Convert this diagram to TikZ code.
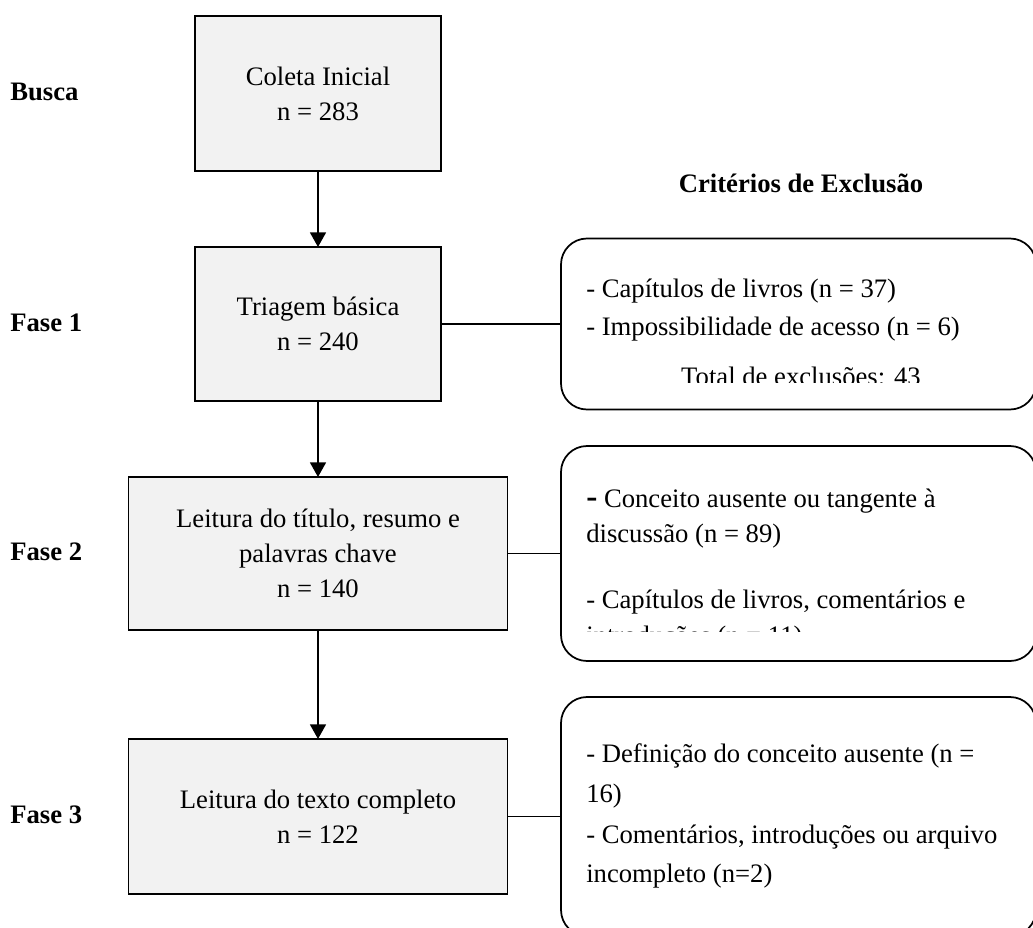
\documentclass[tikz,border=0pt]{standalone}
\usepackage{fontspec}
\setmainfont{Liberation Serif}
\usetikzlibrary{arrows.meta}
\definecolor{boxfill}{HTML}{F2F2F2}
\tikzset{
  stagebox/.style={draw=black, line width=1.3pt, fill=boxfill, inner sep=0pt, outer sep=0pt, align=center, font=\fontsize{20}{26.25}\selectfont},
  exclbox/.style={draw=black, line width=1.3pt, rounded corners=19.5pt, inner sep=0pt, outer sep=0pt, minimum width=356.25pt},
  phaselabel/.style={anchor=west, inner sep=0pt, font=\fontsize{20}{26}\selectfont\bfseries},
  excltext/.style={anchor=base west, inner sep=0pt, font=\fontsize{20}{26}\selectfont},
  flow/.style={line width=1.3pt, -{Triangle[length=11pt,width=12pt]}},
  link/.style={line width=1.3pt}
}
\begin{document}
\begin{tikzpicture}[x=0.75pt, y=-0.75pt]
\useasboundingbox (0,0) rectangle (1033,928);
\clip (0,0) rectangle (1033,928);

% left-hand stage boxes
\node[stagebox, minimum width=184.5pt, minimum height=116.25pt] (b1) at (318,93.5) {Coleta Inicial\\n = 283};
\node[stagebox, minimum width=184.5pt, minimum height=115.5pt] (b2) at (318,324) {Triagem básica\\n = 240};
\node[stagebox, minimum width=284.25pt, minimum height=114.75pt] (b3) at (318,553.5) {Leitura do título, resumo e\\palavras chave\\n = 140};
\node[stagebox, minimum width=284.25pt, minimum height=116.25pt] (b4) at (318,816.5) {Leitura do texto completo\\n = 122};

\draw[flow] (b1.south) -- (b2.north);
\draw[flow] (b2.south) -- (b3.north);
\draw[flow] (b3.south) -- (b4.north);

% phase labels
\node[phaselabel] (lbusca) at (10,92) {Busca};
\node[phaselabel] (lf1) at (10,323) {Fase 1};
\node[phaselabel] (lf2) at (10,552) {Fase 2};
\node[phaselabel] (lf3) at (10,815) {Fase 3};

% exclusion header
\node[anchor=base, inner sep=0pt, font=\fontsize{20}{26}\selectfont\bfseries] (hdr) at (801,192) {Critérios de Exclusão};

% exclusion boxes
\node[exclbox, minimum height=128.25pt] (r1) at (798.5,324) {};
\node[exclbox, minimum height=161.25pt] (r2) at (798.5,553.5) {};
\node[exclbox, minimum height=179.25pt] (r3) at (798.5,816.5) {};

\draw[link] (b2.east) -- (r1.west);
\draw[link] (b3.east) -- (r2.west);
\draw[link] (b4.east) -- (r3.west);

% exclusion texts
\begin{scope}
\clip (561,238) rectangle (1036,382);
\node[excltext] (t11) at (586,297) {- Capítulos de livros (n = 37)};
\node[excltext] (t12) at (586,335) {- Impossibilidade de acesso (n = 6)};
\node[anchor=base, inner sep=0pt, font=\fontsize{20}{26}\selectfont] (t13) at (801,385) {Total de exclusões: 43};
\end{scope}

\begin{scope}
\clip (561,445) rectangle (1036,631);
\node[excltext] (t21) at (586,507) {{\fontsize{25}{26}\selectfont\bfseries -} Conceito ausente ou tangente à};
\node[excltext] (t22) at (586,542) {discussão (n = 89)};
\node[excltext] (t23) at (586,608) {- Capítulos de livros, comentários e};
\node[excltext] (t24) at (586,644) {introduções (n = 11)};
\end{scope}

\node[excltext] (t31) at (586,762) {- Definição do conceito ausente (n =};
\node[excltext] (t32) at (586,802) {16)};
\node[excltext] (t33) at (586,843) {- Comentários, introduções ou arquivo};
\node[excltext] (t34) at (586,882) {incompleto (n=2)};
\end{tikzpicture}
\end{document}
